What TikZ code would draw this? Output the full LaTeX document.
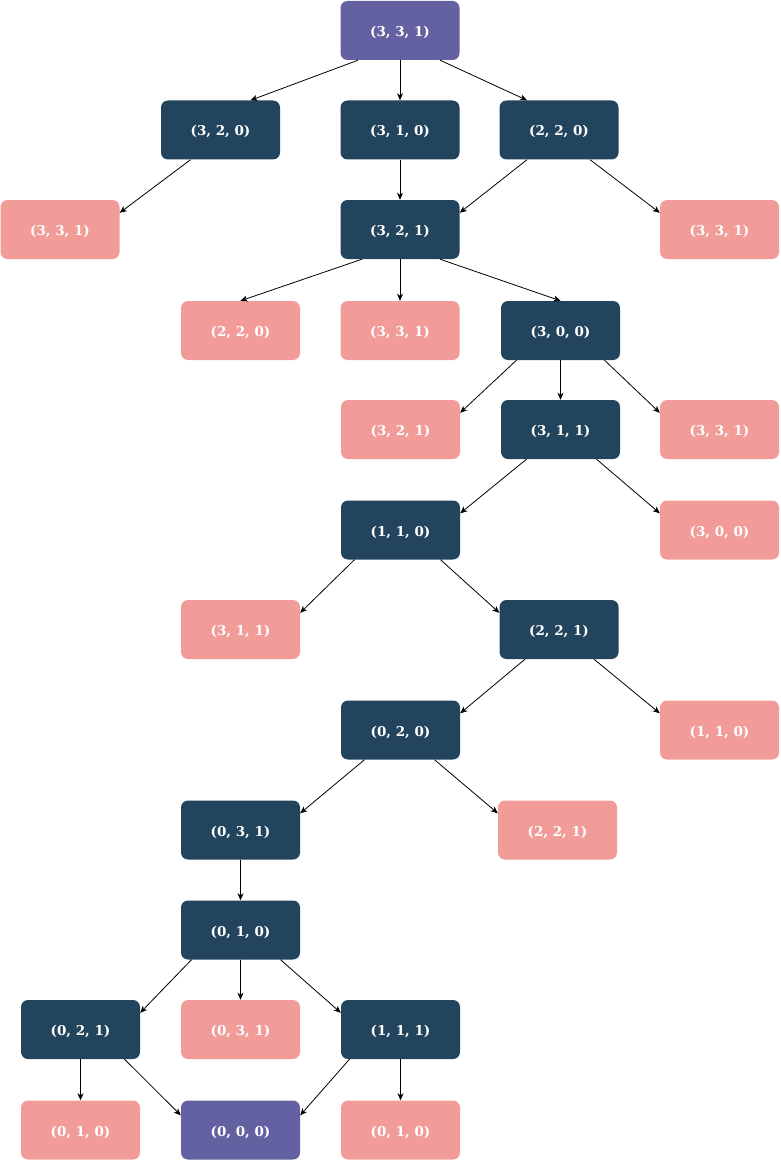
\documentclass[tikz,border=0pt]{standalone}
\usepackage{fontspec}
\setmainfont{DejaVu Serif}
\usetikzlibrary{arrows.meta}
\definecolor{darkbox}{HTML}{23445D}
\definecolor{pinkbox}{HTML}{F19C99}
\definecolor{purplebox}{HTML}{6461A3}
\tikzset{
  statebox/.style={rectangle, rounded corners=7pt, minimum width=119pt, minimum height=59pt,
    inner sep=0pt, text height=12pt, text depth=0pt, text=white,
    font=\fontsize{13.5}{16}\selectfont\bfseries},
  darknode/.style={statebox, fill=darkbox},
  pinknode/.style={statebox, fill=pinkbox},
  endnode/.style={statebox, fill=purplebox},
  edge/.style={draw=black, line width=0.8pt, -{Stealth[length=7pt,width=6pt,inset=2pt]}}
}
\begin{document}
\begin{tikzpicture}[x=1pt,y=-1pt]
\useasboundingbox (0,0) rectangle (780,1161);
% row 1
\node[endnode] (root) at (400,30.5) {(3, 3, 1)};
% row 2
\node[darknode] (n320) at (220.5,130) {(3, 2, 0)};
\node[darknode] (n310) at (400,130) {(3, 1, 0)};
\node[darknode] (n220) at (559,130) {(2, 2, 0)};
% row 3
\node[pinknode] (a331) at (60,229.5) {(3, 3, 1)};
\node[darknode] (n321) at (400,229.5) {(3, 2, 1)};
\node[pinknode] (b331) at (719.5,229.5) {(3, 3, 1)};
% row 4
\node[pinknode] (a220) at (240.5,330.5) {(2, 2, 0)};
\node[pinknode] (c331) at (400,330.5) {(3, 3, 1)};
\node[darknode] (n300) at (560.5,330.5) {(3, 0, 0)};
% row 5
\node[pinknode] (a321) at (400.5,429.5) {(3, 2, 1)};
\node[darknode] (n311) at (560.5,429.5) {(3, 1, 1)};
\node[pinknode] (d331) at (719.5,429.5) {(3, 3, 1)};
% row 6
\node[darknode] (n110) at (400.5,530) {(1, 1, 0)};
\node[pinknode] (a300) at (719.5,530) {(3, 0, 0)};
% row 7
\node[pinknode] (a311) at (240.5,629.5) {(3, 1, 1)};
\node[darknode] (n221) at (559,629.5) {(2, 2, 1)};
% row 8
\node[darknode] (n020) at (400.5,730) {(0, 2, 0)};
\node[pinknode] (a110) at (719.5,730) {(1, 1, 0)};
% row 9
\node[darknode] (n031) at (240.5,830) {(0, 3, 1)};
\node[pinknode] (a221) at (557.5,830) {(2, 2, 1)};
% row 10
\node[darknode] (n010) at (240.5,930) {(0, 1, 0)};
% row 11
\node[darknode] (n021) at (80.5,1029.5) {(0, 2, 1)};
\node[pinknode] (a031) at (240.5,1029.5) {(0, 3, 1)};
\node[darknode] (n111) at (400.5,1029.5) {(1, 1, 1)};
% row 12
\node[pinknode] (a010) at (80.5,1130) {(0, 1, 0)};
\node[endnode] (n000) at (240.5,1130) {(0, 0, 0)};
\node[pinknode] (b010) at (400.5,1130) {(0, 1, 0)};
% edges
\draw[edge] ([xshift=-42pt]root.south) -- ([xshift=30pt]n320.north);
\draw[edge] (root.south) -- (n310.north);
\draw[edge] ([xshift=40pt]root.south) -- ([xshift=-32pt]n220.north);
\draw[edge] ([xshift=-30pt]n320.south) -- ([yshift=-13pt]a331.north east);
\draw[edge] (n310.south) -- (n321.north);
\draw[edge] ([xshift=-32pt]n220.south) -- ([yshift=-13pt]n321.north east);
\draw[edge] ([xshift=31pt]n220.south) -- ([yshift=-13pt]b331.north west);
\draw[edge] ([xshift=-38pt]n321.south) -- (a220.north);
\draw[edge] (n321.south) -- (c331.north);
\draw[edge] ([xshift=40pt]n321.south) -- (n300.north);
\draw[edge] ([xshift=-44pt]n300.south) -- ([yshift=-13pt]a321.north east);
\draw[edge] (n300.south) -- (n311.north);
\draw[edge] ([xshift=44pt]n300.south) -- ([yshift=-13pt]d331.north west);
\draw[edge] ([xshift=-34pt]n311.south) -- ([yshift=-13pt]n110.north east);
\draw[edge] ([xshift=36pt]n311.south) -- ([yshift=-13pt]a300.north west);
\draw[edge] ([xshift=-46pt]n110.south) -- ([yshift=-13pt]a311.north east);
\draw[edge] ([xshift=40pt]n110.south) -- ([yshift=-13pt]n221.north west);
\draw[edge] ([xshift=-34pt]n221.south) -- ([yshift=-13pt]n020.north east);
\draw[edge] ([xshift=35pt]n221.south) -- ([yshift=-13pt]a110.north west);
\draw[edge] ([xshift=-36pt]n020.south) -- ([yshift=-13pt]n031.north east);
\draw[edge] ([xshift=34pt]n020.south) -- ([yshift=-13pt]a221.north west);
\draw[edge] (n031.south) -- (n010.north);
\draw[edge] ([xshift=-49pt]n010.south) -- ([yshift=-13pt]n021.north east);
\draw[edge] (n010.south) -- (a031.north);
\draw[edge] ([xshift=40pt]n010.south) -- ([yshift=-13pt]n111.north west);
\draw[edge] (n021.south) -- (a010.north);
\draw[edge] ([xshift=44pt]n021.south) -- ([yshift=-15pt]n000.north west);
\draw[edge] ([xshift=-51pt]n111.south) -- ([yshift=-15pt]n000.north east);
\draw[edge] (n111.south) -- (b010.north);
\end{tikzpicture}
\end{document}
